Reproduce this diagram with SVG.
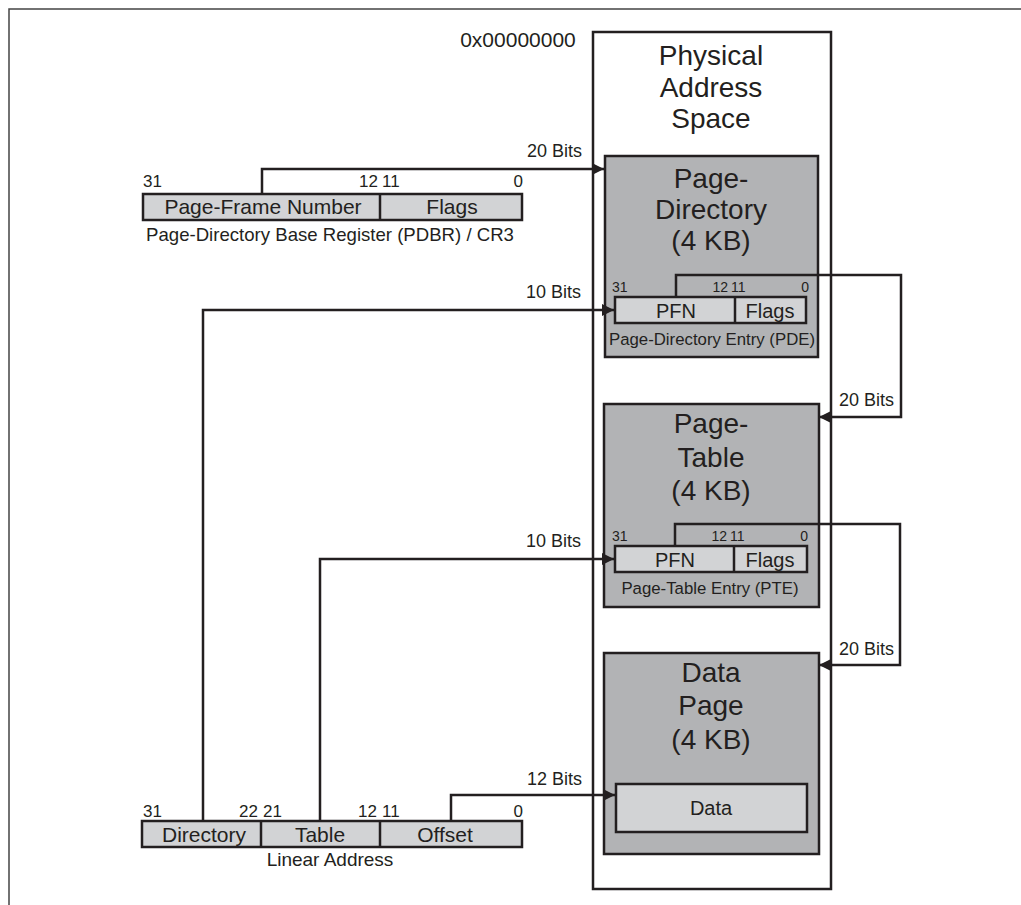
<svg xmlns="http://www.w3.org/2000/svg" width="1021" height="905" viewBox="0 0 1021 905">
<defs>
<style>
text{font-family:"Liberation Sans",Arial,sans-serif;fill:#231f20}
.big{font-size:28px;text-anchor:middle}
.fld{font-size:21px;text-anchor:middle}
.sfld{font-size:20px;text-anchor:middle}
.bit{font-size:17px}
.sbit{font-size:14px}
.cap{font-size:18.6px;text-anchor:middle}
.scap{font-size:16.8px;text-anchor:middle}
.lbl{font-size:18px;text-anchor:end}
.e{text-anchor:end}
.frame{fill:#fff;stroke:#231f20;stroke-width:2.5}
.page{fill:#b2b3b5;stroke:#231f20;stroke-width:2.5}
.cell{fill:#d2d3d5;stroke:#231f20;stroke-width:2.5}
.conn{fill:none;stroke:#231f20;stroke-width:2.5}
</style>
<marker id="arr" viewBox="0 0 12 12" refX="12" refY="6" markerWidth="12" markerHeight="12" markerUnits="userSpaceOnUse" orient="auto">
<path d="M0,0 L12,6 L0,12 Z" fill="#231f20"/>
</marker>
</defs>
<rect width="1021" height="905" fill="#fff"/>
<path d="M9,905 V9 H1021" fill="none" stroke="#444" stroke-width="1.5"/>

<g id="physical">
<rect class="frame" x="593" y="32" width="238" height="857"/>
<text x="518" y="47" style="font-size:21px;text-anchor:middle">0x00000000</text>
<text class="big" x="711" y="65">Physical</text>
<text class="big" x="711" y="97">Address</text>
<text class="big" x="711" y="128">Space</text>
</g>

<g id="pdbr">
<rect class="cell" x="143" y="194" width="379" height="26"/>
<line class="conn" x1="380" y1="194" x2="380" y2="220"/>
<text class="fld" x="263" y="214">Page-Frame Number</text>
<text class="fld" x="452" y="214">Flags</text>
<text class="bit" x="143" y="187">31</text>
<text class="bit e" x="378" y="187">12</text>
<text class="bit" x="382" y="187">11</text>
<text class="bit e" x="523" y="187">0</text>
<text class="cap" x="330" y="241">Page-Directory Base Register (PDBR) / CR3</text>
</g>

<g id="page-directory">
<rect class="page" x="605" y="156" width="213" height="201"/>
<text class="big" x="711" y="188">Page-</text>
<text class="big" x="711" y="219">Directory</text>
<text class="big" x="711" y="250">(4 KB)</text>
<rect class="cell" x="615" y="297" width="191" height="26"/>
<line class="conn" x1="735" y1="297" x2="735" y2="323"/>
<text class="sfld" x="676" y="318">PFN</text>
<text class="sfld" x="770" y="318">Flags</text>
<text class="sbit" x="612" y="292">31</text>
<text class="sbit e" x="728" y="292">12</text>
<text class="sbit" x="731" y="292">11</text>
<text class="sbit e" x="809" y="292">0</text>
<text class="scap" x="712" y="345">Page-Directory Entry (PDE)</text>
</g>

<g id="page-table">
<rect class="page" x="604" y="404" width="215" height="203"/>
<text class="big" x="711" y="433">Page-</text>
<text class="big" x="711" y="467">Table</text>
<text class="big" x="711" y="500">(4 KB)</text>
<rect class="cell" x="615" y="546" width="192" height="26"/>
<line class="conn" x1="734" y1="546" x2="734" y2="572"/>
<text class="sfld" x="675" y="567">PFN</text>
<text class="sfld" x="770" y="567">Flags</text>
<text class="sbit" x="612" y="541">31</text>
<text class="sbit e" x="727" y="541">12</text>
<text class="sbit" x="730" y="541">11</text>
<text class="sbit e" x="808" y="541">0</text>
<text class="scap" x="710" y="594">Page-Table Entry (PTE)</text>
</g>

<g id="data-page">
<rect class="page" x="604" y="653" width="215" height="201"/>
<text class="big" x="711" y="682">Data</text>
<text class="big" x="711" y="715">Page</text>
<text class="big" x="711" y="749">(4 KB)</text>
<rect class="cell" x="616" y="784" width="191" height="48"/>
<text class="sfld" x="711" y="815">Data</text>
</g>

<g id="linear-address">
<rect class="cell" x="142" y="821" width="380" height="26"/>
<line class="conn" x1="261" y1="821" x2="261" y2="847"/>
<line class="conn" x1="380" y1="821" x2="380" y2="847"/>
<text class="fld" x="204" y="842">Directory</text>
<text class="fld" x="320" y="842">Table</text>
<text class="fld" x="445" y="842">Offset</text>
<text class="bit" x="143" y="817">31</text>
<text class="bit e" x="258" y="817">22</text>
<text class="bit" x="263" y="817">21</text>
<text class="bit e" x="377" y="817">12</text>
<text class="bit" x="382" y="817">11</text>
<text class="bit e" x="523" y="817">0</text>
<text class="cap" x="330" y="866" style="font-size:19px">Linear Address</text>
</g>

<g id="connectors">
<path class="conn" d="M262,194 V169 H604" marker-end="url(#arr)"/>
<text class="lbl" x="582" y="157">20 Bits</text>
<path class="conn" d="M203,821 V310 H614" marker-end="url(#arr)"/>
<text class="lbl" x="581" y="298">10 Bits</text>
<path class="conn" d="M320,821 V559 H614" marker-end="url(#arr)"/>
<text class="lbl" x="581" y="547">10 Bits</text>
<path class="conn" d="M451,821 V795 H615" marker-end="url(#arr)"/>
<text class="lbl" x="582" y="785">12 Bits</text>
<path class="conn" d="M676,297 V275 H901 V417 H819" marker-end="url(#arr)"/>
<text class="lbl" x="894" y="406">20 Bits</text>
<path class="conn" d="M675,546 V524 H900 V665 H819" marker-end="url(#arr)"/>
<text class="lbl" x="894" y="655">20 Bits</text>
</g>
</svg>
